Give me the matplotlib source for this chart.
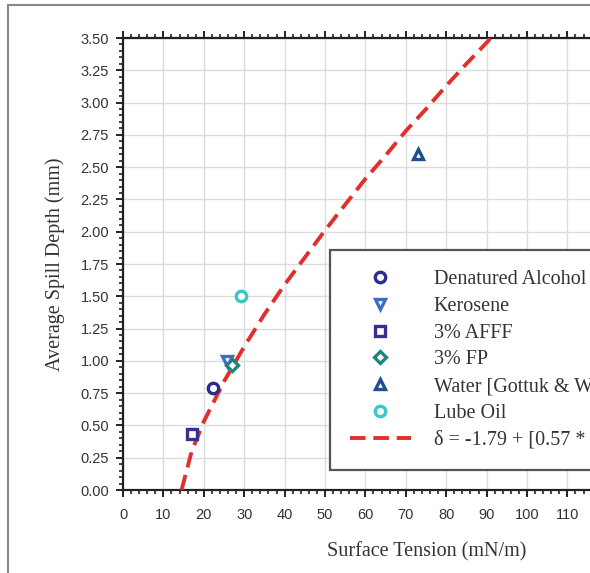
import matplotlib
matplotlib.use("Agg")
import matplotlib.pyplot as plt
from matplotlib.ticker import MultipleLocator, FormatStrFormatter, FuncFormatter
from matplotlib.lines import Line2D

# ---- data ----
series_names = ["Denatured Alcohol", "Kerosene", "3% AFFF", "3% FP",
                "Water [Gottuk & White]", "Lube Oil"]
surface_tension = [22.3, 25.7, 17.2, 26.9, 73.1, 29.1]
spill_depth = [0.79, 1.00, 0.43, 0.97, 2.60, 1.50]
markers = ["o", "v", "s", "D", "^", "o"]
colors = ["#2e2c8c", "#3b6fc4", "#3a2e90", "#1f857c", "#1f4f8e", "#3cc6c6"]

fit_label = "δ = -1.79 + [0.57 * σ]"
fit_sigma = [14.5, 17, 20, 25, 30, 35, 40, 45, 50, 55, 60, 65, 70, 75, 80, 85, 90.5, 91.2]
fit_depth = [0.00, 0.30, 0.53, 0.84, 1.11, 1.36, 1.59, 1.80, 2.01, 2.21, 2.41,
             2.59, 2.78, 2.95, 3.13, 3.30, 3.48, 3.52]

W, H = 590, 573
fig = plt.figure(figsize=(W / 100, H / 100), dpi=100)
ax = fig.add_axes([123 / W, 83 / H, 606 / W, 452 / H])

for x, y, m, c, n in zip(surface_tension, spill_depth, markers, colors, series_names):
    ax.plot([x], [y], linestyle="none", marker=m, markersize=7.5 if m != "D" else 6.5,
            markerfacecolor="white", markeredgecolor=c, markeredgewidth=2.4,
            label=n, zorder=4)

ax.plot(fit_sigma, fit_depth, linestyle=(0, (4, 2)), color="#e0302c", lw=2.8,
        label=fit_label, zorder=3)

ax.set_xlim(0, 150)
ax.set_ylim(0, 3.5)
ax.xaxis.set_major_locator(MultipleLocator(10))
ax.xaxis.set_minor_locator(MultipleLocator(2))
ax.xaxis.set_major_formatter(FuncFormatter(lambda v, p: f"{v:.0f}" if v <= 110 else ""))
ax.yaxis.set_major_locator(MultipleLocator(0.25))
ax.yaxis.set_minor_locator(MultipleLocator(0.05))
ax.yaxis.set_major_formatter(FormatStrFormatter("%.2f"))

ax.grid(True, which="major", color="#dcdcdc", lw=1.0)
ax.set_axisbelow(True)
ax.tick_params(which="both", direction="out", top=True, right=False,
               labeltop=False, color="#222222")
ax.tick_params(which="major", length=5, width=1.4, labelsize=10.5,
               labelcolor="#333333")
ax.tick_params(axis="y", which="major", pad=5)
ax.tick_params(axis="x", which="major", pad=8)
ax.tick_params(which="minor", length=3, width=1.2)
for lab in ax.get_xticklabels() + ax.get_yticklabels():
    lab.set_family("Liberation Sans")
for s in ["left", "bottom", "top"]:
    ax.spines[s].set_linewidth(1.6)
    ax.spines[s].set_color("#222222")

ax.set_xlabel("Surface Tension (mN/m)", family="Liberation Serif", fontsize=14.5,
              color="#333333")
ax.set_ylabel("Average Spill Depth (mm)", family="Liberation Serif", fontsize=14.5,
              color="#333333")
ax.xaxis.set_label_coords((427 - 123) / 606, -(552 - 490) / 452)
ax.yaxis.set_label_coords((55 - 123) / 606, 0.5)
ax.yaxis.label.set_verticalalignment("center")
ax.xaxis.label.set_verticalalignment("center")

leg = ax.legend(loc="upper left", bbox_to_anchor=((330 - 123) / 606, (490 - 250) / 452),
                borderaxespad=0, fancybox=False, framealpha=1, edgecolor="#555555",
                prop={"family": "Liberation Serif", "size": 14.5},
                handlelength=3.0, handletextpad=1.15, borderpad=1.0,
                labelspacing=0.38, numpoints=1)
leg.get_frame().set_linewidth(1.6)
for t in leg.get_texts():
    t.set_color("#333333")

# outer frame of the picture
fig.add_artist(Line2D([8 / W, 8 / W], [0, 1 - 5 / H], color="#888888", lw=1.5))
fig.add_artist(Line2D([8 / W, 1], [1 - 5 / H, 1 - 5 / H], color="#888888", lw=1.5))

fig.savefig("out.png", dpi=100)
